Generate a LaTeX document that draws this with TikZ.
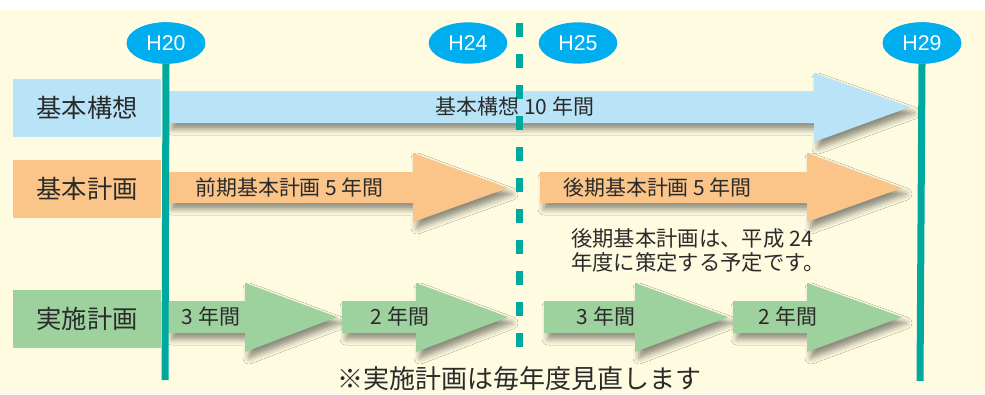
\documentclass[tikz,border=0pt]{standalone}
\usepackage{fontspec}
\setmainfont{Noto Sans CJK JP}
\newfontfamily\latinfont{Liberation Sans}
\usetikzlibrary{shapes.geometric,shadows.blur}
\definecolor{cream}{HTML}{FEFBE0}
\definecolor{yearblue}{HTML}{00AEEF}
\definecolor{poleteal}{HTML}{00A99D}
\definecolor{lightblue}{HTML}{B9E3F7}
\definecolor{lightorange}{HTML}{FBC589}
\definecolor{lightgreen}{HTML}{9DD19D}
\definecolor{ink}{HTML}{2B2B2B}
\begin{document}
\begin{tikzpicture}[x=0.75pt,y=0.75pt,
	year/.style={ellipse,fill=yearblue,minimum width=59pt,minimum height=31pt,inner sep=0pt,text=white,font=\latinfont\fontsize{16}{16}\selectfont},
	pole/.style={poleteal,line width=5.25pt},
	rowlabel/.style={anchor=west,minimum width=111pt,minimum height=43.5pt,inner sep=0pt,text=ink,font=\fontsize{19}{19}\selectfont},
	span/.style={blur shadow={shadow xshift=3pt,shadow yshift=-4.5pt,shadow blur radius=4.5pt,shadow opacity=45}},
	inarrow/.style={text=ink,inner sep=0pt,font=\fontsize{15.7}{15.7}\selectfont}]
	\useasboundingbox (0,0) rectangle (985,-394);
	\fill[white] (0,0) rectangle (985,-394);
	\fill[cream] (0,-10) rectangle (985,-394);
	% row labels
	\node[rowlabel,fill=lightblue] (kousou) at (13,-108) {基本構想};
	\node[rowlabel,fill=lightorange] (keikaku) at (13,-189) {基本計画};
	\node[rowlabel,fill=lightgreen] (jisshi) at (13,-319) {実施計画};
	% arrows
	\fill[lightblue,span] (168,-91)--(814,-91)--(814,-73)--(910,-107)--(814,-142)--(814,-123)--(168,-123)--cycle;
	\fill[lightorange,span] (168,-172)--(413,-172)--(413,-153)--(508,-188)--(413,-222)--(413,-203)--(168,-203)--cycle;
	\fill[lightorange,span] (540,-172)--(807,-172)--(807,-153)--(902,-188)--(807,-222)--(807,-203)--(540,-203)--cycle;
	\foreach \a/\b/\c in {168/245/337,342/416/508,544/635/728,733/807/902}
		\fill[lightgreen,span] (\a,-301)--(\b,-301)--(\b,-283)--(\c,-317)--(\b,-352)--(\b,-333)--(\a,-333)--cycle;
	% years
	\node[year] (h20) at (166,-43) {H20};
	\node[year] (h24) at (468,-43) {H24};
	\node[year] (h25) at (578,-43) {H25};
	\node[year] (h29) at (922,-43) {H29};
	\coordinate (h20end) at (165,-380);
	\coordinate (h29end) at (920,-381);
	\coordinate (cuttop) at (519,-23);
	\coordinate (cutend) at (519,-350);
	\draw[pole] (h20.south) -- (h20end);
	\draw[pole] (h29.south) -- (h29end);
	\draw[pole,dash pattern=on 10.5pt off 12.75pt] (cuttop) -- (cutend);
	\node[year] at (h20) {H20};
	\node[year] at (h29) {H29};
	% texts
	\node[inarrow] (kousoutxt) at (515,-107) {基本構想 10 年間};
	\node[inarrow,anchor=west] (zenki) at (195,-188) {前期基本計画 5 年間};
	\node[inarrow,anchor=west] (kouki) at (563,-188) {後期基本計画 5 年間};
	\node[inarrow] (g1) at (211,-317) {3 年間};
	\node[inarrow] (g2) at (400,-317) {2 年間};
	\node[inarrow] (g3) at (606,-317) {3 年間};
	\node[inarrow] (g4) at (788,-317) {2 年間};
	\node[inarrow,anchor=north west,font=\fontsize{16}{18}\selectfont,align=left] (note) at (571,-228) {後期基本計画は、平成 24\\年度に策定する予定です。};
	\node[text=ink,inner sep=0pt,font=\fontsize{19.5}{19.5}\selectfont] (review) at (519,-379) {※実施計画は毎年度見直します};
\end{tikzpicture}
\end{document}
